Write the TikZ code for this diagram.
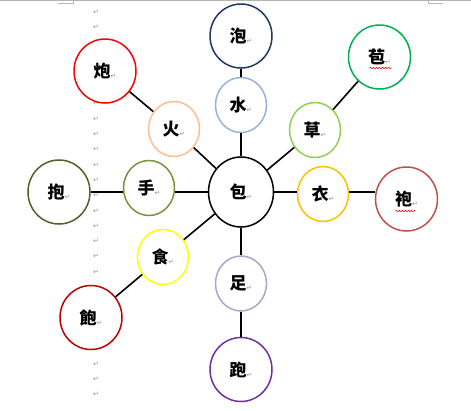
\documentclass[tikz,border=0pt]{standalone}
\usepackage{fontspec}
\newfontfamily\cjk{Noto Sans CJK TC}
\newfontfamily\djv{DejaVu Sans}
\usetikzlibrary{shapes.geometric,decorations.pathmorphing}
\definecolor{cNavy}{RGB}{31,56,100}
\definecolor{cLBlue}{RGB}{149,179,215}
\definecolor{cRed}{RGB}{255,0,0}
\definecolor{cPeach}{RGB}{250,192,144}
\definecolor{cGreen}{RGB}{0,176,80}
\definecolor{cLGreen}{RGB}{146,208,80}
\definecolor{cOliveD}{RGB}{79,98,40}
\definecolor{cOlive}{RGB}{119,147,60}
\definecolor{cGold}{RGB}{255,192,0}
\definecolor{cBrick}{RGB}{192,80,77}
\definecolor{cYellow}{RGB}{255,255,0}
\definecolor{cDRed}{RGB}{192,0,0}
\definecolor{cLav}{RGB}{179,162,199}
\definecolor{cPurple}{RGB}{112,48,160}
\definecolor{cMark}{RGB}{150,150,150}
\newcommand{\pmk}{\raisebox{-1pt}{\djv\fontsize{7}{7}\selectfont\textcolor{cMark}{↵}}}
\newcommand{\lab}[1]{{\cjk\bfseries\fontsize{17}{17}\selectfont #1}\pmk}
\tikzset{
  bigc/.style={ellipse, draw, line width=1.5pt, fill=white, minimum width=62pt, minimum height=64pt, inner sep=0pt},
  smallc/.style={ellipse, draw, line width=1.5pt, fill=white, minimum width=51pt, minimum height=55pt, inner sep=0pt},
  hubc/.style={ellipse, draw, line width=1.5pt, fill=white, minimum width=65pt, minimum height=70pt, inner sep=0pt},
  link/.style={line width=1.6pt, black},
  colmark/.style={inner sep=0pt, font=\djv\fontsize{7}{7}\selectfont, text=cMark},
  wavy/.style={draw=red, line width=0.5pt, decorate, decoration={snake, amplitude=0.8pt, segment length=3pt}},
  pagerule/.style={draw=cMark!70, line width=0.8pt}
}
\begin{document}
\begin{tikzpicture}[x=1pt,y=-1pt]
\useasboundingbox (0,0) rectangle (471,410);
\fill[white] (0,0) rectangle (471,410);
% page top rule and corner marks
\coordinate (tl) at (0,0.5);
\coordinate (tr) at (471,0.5);
\draw[pagerule] (tl) -- (tr);
\coordinate (cl1) at (58,3.5);
\coordinate (cl2) at (73,3.5);
\coordinate (cl3) at (73,0);
\draw[pagerule] (cl1) -- (cl2) -- (cl3);
\coordinate (cr1) at (428,0);
\coordinate (cr2) at (428,3.5);
\coordinate (cr3) at (443,3.5);
\draw[pagerule] (cr1) -- (cr2) -- (cr3);
% paragraph marks column (those hidden behind circles are omitted)
\foreach \k in {0,1,6,7,8,9,10,11,12,13,14,15,16,17,22,23,24,25} {
  \node[colmark] (m\k) at (96,{12+15.3*\k}) {↵};
}
% nodes
\node[hubc] (bao) at (241,192) {\lab{包}};
\node[bigc, draw=cNavy] (paoA) at (241,36) {\lab{泡}};
\node[smallc, draw=cLBlue] (shui) at (241,105) {\lab{水}};
\node[bigc, draw=cRed] (paoB) at (105,71) {\lab{炮}};
\node[smallc, draw=cPeach] (huo) at (174,129) {\lab{火}};
\node[smallc, draw=cLGreen] (cao) at (315,130) {\lab{草}};
\node[bigc, draw=cGreen] (baoC) at (379.5,57) {\lab{苞}};
\node[bigc, draw=cOliveD] (baoD) at (59,192) {\lab{抱}};
\node[smallc, draw=cOlive] (shou) at (149,188) {\lab{手}};
\node[smallc, draw=cGold] (yi) at (323,194) {\lab{衣}};
\node[bigc, draw=cBrick] (paoE) at (406.5,199) {\lab{袍}};
\node[smallc, draw=cYellow] (shi) at (163,257) {\lab{食}};
\node[bigc, draw=cDRed] (baoF) at (91,317.5) {\lab{飽}};
\node[smallc, draw=cLav] (zu) at (241,283.5) {\lab{足}};
\node[bigc, draw=cPurple] (paoG) at (241,369.5) {\lab{跑}};
% connectors
\draw[link] (paoA) -- (shui);
\draw[link] (shui) -- (bao);
\draw[link] (paoB) -- (huo);
\draw[link] (huo) -- (bao);
\draw[link] (baoC) -- (cao);
\draw[link] (cao) -- (bao);
\draw[link] (baoD.east |- bao) -- (shou.west |- bao);
\draw[link] (shou.east |- bao) -- (bao.west);
\draw[link] (bao.east) -- (yi.west |- bao);
\draw[link] (yi.east |- bao) -- (paoE.west |- bao);
\draw[link] (bao) -- (shi);
\draw[link] (shi) -- (baoF);
\draw[link] (bao) -- (zu);
\draw[link] (zu) -- (paoG);
% spelling underlines
\draw[wavy] ([xshift=-10pt,yshift=-11pt]baoC.center) -- ([xshift=12pt,yshift=-11pt]baoC.center);
\draw[wavy] ([xshift=-11pt,yshift=-12pt]paoE.center) -- ([xshift=9pt,yshift=-12pt]paoE.center);
\end{tikzpicture}
\end{document}
